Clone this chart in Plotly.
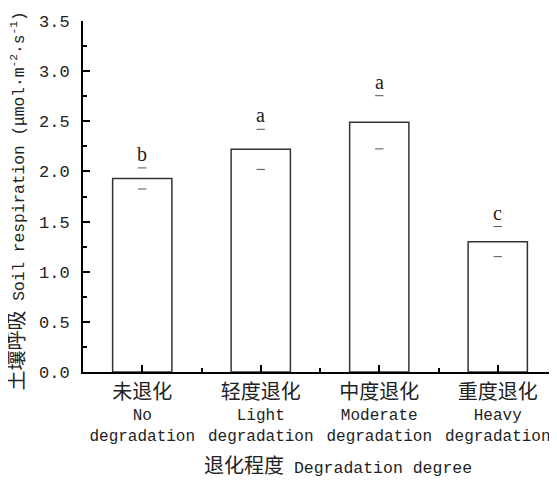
import plotly.graph_objects as go

categories_cn = ["未退化", "轻度退化", "中度退化", "重度退化"]
categories_en1 = ["No", "Light", "Moderate", "Heavy"]
categories_en2 = ["degradation", "degradation", "degradation", "degradation"]
values = [1.93, 2.22, 2.49, 1.30]
errors = [0.105, 0.20, 0.265, 0.15]
letters = ["b", "a", "a", "c"]
y_ticks = [0.0, 0.5, 1.0, 1.5, 2.0, 2.5, 3.0, 3.5]
y_ticklabels = ["0.0", "0.5", "1.0", "1.5", "2.0", "2.5", "3.0", "3.5"]

MONO = "Liberation Mono, Noto Sans CJK SC, monospace"
x = list(range(len(values)))

ticktext = [
    f"<span style='font-size:20px'>{c}</span><br>{e1}<br>{e2}"
    for c, e1, e2 in zip(categories_cn, categories_en1, categories_en2)
]

fig = go.Figure()
fig.add_trace(go.Bar(
    x=x, y=values, width=0.5,
    marker=dict(color="white", line=dict(color="#333333", width=1.5)),
    showlegend=False, hoverinfo="skip",
))
# error caps
fig.add_trace(go.Scatter(
    x=x + x,
    y=[v + e for v, e in zip(values, errors)] + [v - e for v, e in zip(values, errors)],
    mode="markers",
    marker=dict(symbol="line-ew", size=6, line=dict(color="#555555", width=1)),
    showlegend=False, hoverinfo="skip",
))

for xi, v, e, l in zip(x, values, errors, letters):
    fig.add_annotation(x=xi, y=v + e, text=l, showarrow=False, yanchor="bottom",
                       yshift=1, font=dict(family="Liberation Serif", size=20, color="#222"))

fig.add_annotation(
    xref="paper", yref="paper", x=-0.137, y=0.486, textangle=-90, showarrow=False,
    xanchor="center", yanchor="middle",
    text="<span style='font-size:20px'>土壤呼吸</span> Soil respiration (μmol·m<sup>-2</sup>·s<sup>-1</sup>)",
    font=dict(family=MONO, size=16.2, color="#222"),
)
fig.add_annotation(
    xref="paper", yref="paper", x=0.538, y=-0.2707, showarrow=False,
    xanchor="center", yanchor="middle",
    text="<span style='font-size:20px'>退化程度</span> Degradation degree",
    font=dict(family=MONO, size=16.5, color="#222"),
)

# page body has an 8px default margin: compensate so the plot lands where the reference is
fig.update_layout(
    width=549, height=474,
    margin=dict(l=75, r=0, t=13, b=110),
    plot_bgcolor="white", paper_bgcolor="white",
    font=dict(family=MONO, size=16, color="#222"),
)
fig.update_xaxes(
    range=[-0.5, 3.5], tickmode="array", tickvals=x, ticktext=ticktext,
    showline=True, linecolor="black", linewidth=2,
    ticks="inside", ticklen=7, tickwidth=1.5, tickcolor="black",
    minor=dict(tickmode="array", tickvals=[0.5, 1.5, 2.5], ticks="inside", ticklen=4,
               tickwidth=1.5, tickcolor="black"),
    showgrid=False, zeroline=False, ticklabelstandoff=6,
)
fig.update_yaxes(
    range=[0, 3.5], tickmode="array", tickvals=y_ticks, ticktext=y_ticklabels,
    showline=True, linecolor="black", linewidth=2,
    ticks="inside", ticklen=7, tickwidth=1.5, tickcolor="black",
    minor=dict(tickmode="array", tickvals=[0.25, 0.75, 1.25, 1.75, 2.25, 2.75, 3.25],
               ticks="inside", ticklen=4, tickwidth=1.5, tickcolor="black"),
    showgrid=False, zeroline=False, ticklabelstandoff=8,
    tickfont=dict(size=17),
)

fig.write_html("out.html")
